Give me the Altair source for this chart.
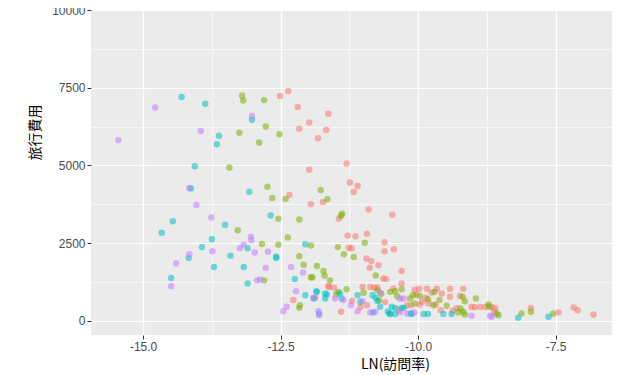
import altair as alt
import pandas as pd

# --- data (LN visit rate vs travel cost), four groups ---
red_x = [-12.51, -12.36, -12.19, -11.98, -11.63, -12.16, -11.67, -11.82, -11.30, -11.98,
         -11.24, -11.10, -11.17, -12.34, -11.95, -11.73, -11.44, -10.90, -10.47, -11.28,
         -11.14, -10.93, -11.26, -11.21, -10.61, -10.61, -10.44, -10.94, -10.85, -10.88,
         -10.72, -10.63, -10.58, -10.30, -10.30, -11.62, -11.53, -11.01, -10.87, -10.80,
         -10.74, -10.45, -10.06, -9.98, -9.84, -9.66, -9.42, -9.18, -10.03, -9.75,
         -9.57, -9.42, -9.24, -9.97, -9.30, -10.20, -10.13, -9.81, -9.68, -9.59,
         -9.37, -9.03, -8.97, -8.87, -8.78, -8.66, -8.60, -8.62, -11.40, -12.27,
         -11.87, -11.63, -10.93, -7.95, -7.45, -7.17, -7.10, -6.81, -9.93, -9.86,
         -10.60, -10.35, -11.05, -11.20]
red_y = [7230, 7390, 6880, 6380, 6660, 6180, 6140, 5870, 5060, 4860,
         4450, 4340, 4140, 4050, 3750, 3820, 3290, 3580, 3410, 2740,
         2720, 2800, 2350, 2330, 2530, 2240, 2300, 2000, 1920, 1710,
         1790, 1360, 1340, 1600, 1200, 1090, 1060, 1090, 1090, 1060,
         1070, 1040, 1000, 1030, 1030, 1030, 1030, 1030, 845, 910,
         880, 770, 800, 525, 400, 500, 500, 555, 520, 340,
         320, 440, 440, 440, 440, 440, 400, 290, 290, 670,
         740, 1120, 500, 415, 270, 430, 340, 200, 610, 740,
         600, 350, 440, 640]

green_x = [-13.20, -13.18, -12.80, -13.25, -12.77, -12.52, -12.89, -13.43, -12.74, -12.65,
           -12.41, -11.77, -11.65, -11.38, -11.40, -13.28, -12.54, -12.16, -12.37, -12.84,
           -12.54, -11.95, -11.46, -11.35, -11.17, -10.97, -12.80, -12.16, -12.08, -11.84,
           -11.72, -11.70, -11.95, -11.60, -11.30, -11.45, -10.77, -12.15, -12.16, -11.49,
           -10.99, -10.74, -10.71, -10.51, -10.42, -10.38, -10.67, -10.30, -10.09, -10.06,
           -9.97, -9.82, -9.70, -9.61, -9.48, -9.72, -9.19, -9.15, -8.95, -9.23,
           -9.18, -9.15, -9.27, -8.72, -8.71, -8.57, -8.54, -8.12, -7.95, -7.55,
           -10.15, -11.92]
green_y = [7250, 7090, 7100, 6050, 6250, 6000, 5735, 4930, 4315, 3950,
           3920, 4210, 3910, 3440, 3380, 2915, 3280, 3260, 2680, 2470,
           2450, 2420, 2370, 2140, 2050, 2510, 1300, 2080, 1800, 1760,
           1600, 1450, 1400, 1300, 1015, 930, 1460, 500, 415, 850,
           900, 980, 660, 930, 950, 790, 870, 1015, 820, 555,
           800, 695, 930, 665, 480, 500, 770, 630, 720, 395,
           290, 205, 270, 525, 450, 235, 180, 235, 290, 225,
           720, 1390]

teal_x = [-14.30, -13.87, -13.02, -13.62, -13.66, -14.06, -14.13, -13.07, -12.68, -14.46,
          -14.66, -13.51, -13.75, -13.93, -13.41, -13.10, -14.17, -13.71, -13.17, -13.10,
          -14.49, -12.58, -12.58, -12.05, -12.24, -12.05, -11.85, -11.80, -11.84, -11.69,
          -11.66, -11.90, -11.69, -11.39, -11.42, -11.05, -10.83, -10.82, -10.74, -10.77,
          -10.69, -10.48, -10.42, -10.30, -10.51, -10.42, -10.12, -9.90, -9.82, -9.54,
          -9.39, -10.52, -10.26, -10.13, -8.18, -7.63, -10.55, -11.10]
teal_y = [7200, 6985, 6470, 5950, 5680, 4970, 4260, 4150, 3390, 3200,
          2830, 3090, 2620, 2370, 2090, 2330, 2020, 1730, 1730, 1200,
          1380, 2070, 2020, 2460, 1340, 820, 950, 235, 930, 875,
          845, 720, 720, 720, 875, 610, 820, 270, 640, 740,
          450, 450, 415, 415, 215, 215, 215, 215, 215, 215,
          215, 235, 420, 235, 100, 130, 300, 820]

purple_x = [-15.45, -14.78, -13.95, -13.02, -14.16, -14.03, -13.76, -13.74, -14.16, -14.40,
            -14.49, -13.24, -13.17, -13.04, -13.03, -12.97, -12.73, -12.77, -12.93, -12.87,
            -12.31, -12.09, -12.22, -12.45, -12.39, -11.90, -11.81, -11.80, -11.51, -11.36,
            -11.22, -11.10, -11.01, -10.87, -10.69, -10.78, -10.33, -10.27, -10.33, -10.20,
            -10.07, -9.03, -8.66, -8.69]
purple_y = [5810, 6860, 6110, 6590, 4270, 3725, 3320, 2240, 2140, 1840,
            1110, 2330, 2450, 2700, 2590, 2200, 2220, 1705, 1300, 1330,
            1730, 1550, 950, 310, 450, 740, 310, 180, 720, 665,
            500, 310, 630, 270, 910, 290, 720, 720, 270, 235,
            270, 160, 130, 150]

groups = ["1", "2", "3", "4"]
colors = ["#F8766D", "#7CAE00", "#00BFC4", "#C77CFF"]

x_ticks = [-15, -13.75, -12.5, -11.25, -10, -8.75, -7.5]
y_ticks = [0, 1250, 2500, 3750, 5000, 6250, 7500, 8750, 10000]

rows = []
for g, xs, ys in zip(groups, [red_x, green_x, teal_x, purple_x],
                     [red_y, green_y, teal_y, purple_y]):
    for a, b in zip(xs, ys):
        rows.append({"LN": a, "cost": b, "group": g})
df = pd.DataFrame(rows)

x_axis = alt.Axis(
    values=x_ticks, format=".1f",
    labelExpr="datum.value % 2.5 == 0 ? replace(datum.label, '\u2212', '-') : ''",
    gridWidth={"condition": {"test": "datum.value % 2.5 != 0", "value": 0.6}, "value": 1.2},
    tickOpacity={"condition": {"test": "datum.value % 2.5 != 0", "value": 0}, "value": 1},
    labelOverlap=False, titleX=304, titleY=29, titleBaseline="middle", titleAnchor="middle",
    titleAlign="center",
)
y_axis = alt.Axis(
    values=y_ticks, format="d",
    labelExpr="datum.value % 2500 == 0 ? datum.label : ''",
    gridWidth={"condition": {"test": "datum.value % 2500 != 0", "value": 0.6}, "value": 1.2},
    tickOpacity={"condition": {"test": "datum.value % 2500 != 0", "value": 0}, "value": 1},
    labelOverlap=False, titleX=-56, titleY=122, titleBaseline="middle", titleAlign="center",
)

chart = alt.Chart(df).mark_circle(size=42, opacity=0.55, clip=True).encode(
    x=alt.X("LN:Q", title="LN(訪問率)",
            scale=alt.Scale(domain=[-15.947, -6.475], nice=False, zero=False),
            axis=x_axis),
    y=alt.Y("cost:Q", title="旅行費用",
            scale=alt.Scale(domain=[-458, 10000], nice=False, zero=False),
            axis=y_axis),
    color=alt.Color("group:N", scale=alt.Scale(domain=groups, range=colors), legend=None),
).properties(
    width=521, height=325,
    autosize=alt.AutoSizeParams(type="none"),
    padding={"left": 83, "top": 2, "right": 0, "bottom": 40},
).configure_view(
    fill="#EBEBEB", stroke=None
).configure_axis(
    domain=False, gridColor="#FFFFFF", tickColor="#333333", tickSize=4, tickWidth=1,
    labelColor="#4D4D4D", labelFontSize=12, labelFont="Liberation Sans", labelPadding=2,
    titleFont="Noto Sans CJK TC", titleFontSize=14, titleFontWeight="normal", titleColor="#000000",
)

chart.save("out.html", embed_options={"renderer": "svg", "actions": False})
